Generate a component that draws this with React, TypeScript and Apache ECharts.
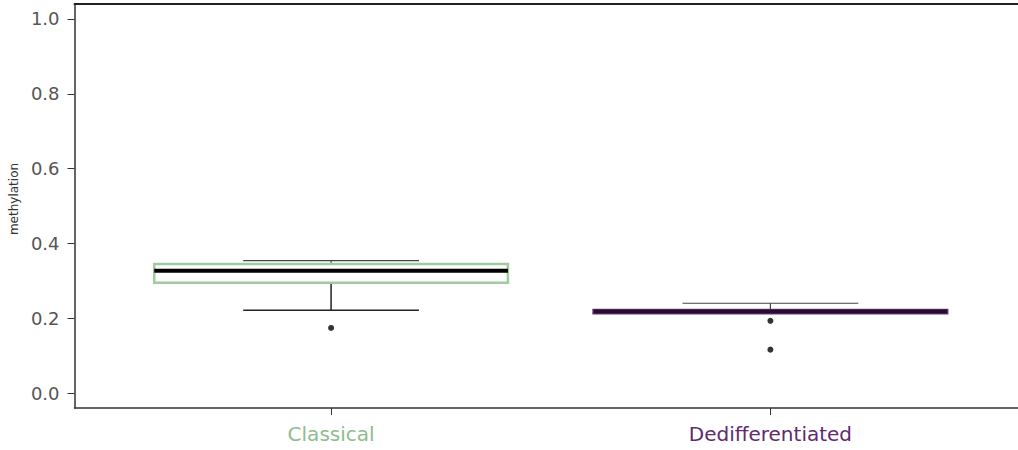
import React, { useEffect, useRef } from "react";
import * as echarts from "echarts";

const categories = ["Classical", "Dedifferentiated"];
const categoryColors = ["#8fbc8f", "#5e2b6e"];
const boxStrokeColors = ["#9fcb9f", "#6b3a7d"];
const medianColors = ["#000000", "#2a0a33"];
// [lowerWhisker, Q1, median, Q3, upperWhisker]
const boxStats = [
  [0.221, 0.295, 0.327, 0.345, 0.354],
  [0.213, 0.213, 0.218, 0.222, 0.240],
];
// [categoryIndex, value]
const outliers = [
  [0, 0.174],
  [1, 0.193],
  [1, 0.116],
];
const yTicks = [0, 0.2, 0.4, 0.6, 0.8, 1.0];

export default function App() {
  const ref = useRef<HTMLDivElement>(null);
  useEffect(() => {
    if (!ref.current) return;
    const chart = echarts.init(ref.current, undefined, { renderer: "svg" });
    const boxData = boxStats.map((s, i) => [i + 1, ...s, i]);
    const outlierData = outliers.map(([c, v]) => [c + 1, v]);
    chart.setOption({
      animation: false,
      backgroundColor: "#ffffff",
      grid: { left: 73, right: 0, top: 4, bottom: 42 },
      xAxis: [
        {
          type: "value",
          min: 0.416,
          max: 2.5636,
          position: "bottom",
          axisLine: { show: true, onZero: false, lineStyle: { color: "#333", width: 1.5 } },
          axisTick: { show: true, length: 7, customValues: [1, 2], lineStyle: { color: "#333", width: 1 } },
          axisLabel: {
            show: true,
            customValues: [1, 2],
            margin: 16,
            fontFamily: "DejaVu Sans",
            fontSize: 20,
            formatter: (v: number) => {
              const i = Math.round(v) - 1;
              return `{c${i}|${categories[i]}}`;
            },
            rich: {
              c0: { color: categoryColors[0], fontFamily: "DejaVu Sans", fontSize: 20 },
              c1: { color: categoryColors[1], fontFamily: "DejaVu Sans", fontSize: 20 },
            },
          },
          splitLine: { show: false },
        },
        {
          type: "value",
          min: 0.416,
          max: 2.5636,
          position: "top",
          axisLine: { show: true, onZero: false, lineStyle: { color: "#222", width: 2 } },
          axisTick: { show: false },
          axisLabel: { show: false },
          splitLine: { show: false },
        },
      ],
      yAxis: {
        type: "value",
        min: -0.04,
        max: 1.04,
        name: "methylation",
        nameLocation: "middle",
        nameGap: 53,
        nameTextStyle: { fontFamily: "DejaVu Sans", fontSize: 12, color: "#333", padding: [0, 0, 0, 14] },
        axisLine: { show: true, onZero: false, lineStyle: { color: "#333", width: 1.5 } },
        axisTick: { show: true, length: 7, customValues: yTicks, lineStyle: { color: "#333" } },
        axisLabel: {
          customValues: yTicks,
          margin: 15,
          fontFamily: "DejaVu Sans",
          fontSize: 18,
          color: "#555",
          formatter: (v: number) => v.toFixed(1),
        },
        splitLine: { show: false },
      },
      series: [
        {
          type: "custom",
          xAxisIndex: 0,
          data: boxData,
          renderItem: (params: any, api: any) => {
            const x = api.value(0);
            const lw = api.value(1);
            const q1 = api.value(2);
            const med = api.value(3);
            const q3 = api.value(4);
            const uw = api.value(5);
            const ci = api.value(6);
            const half = 0.4025;
            const cap = 0.2;
            const pL = api.coord([x - half, q3]);
            const pR = api.coord([x + half, q1]);
            const pC = api.coord([x, med]);
            const yUw = api.coord([x, uw])[1];
            const yLw = api.coord([x, lw])[1];
            const yQ3 = pL[1];
            const yQ1 = pR[1];
            const capL = api.coord([x - cap, 0])[0];
            const capR = api.coord([x + cap, 0])[0];
            const children: any[] = [
              { type: "line", shape: { x1: capL, y1: yUw, x2: capR, y2: yUw }, style: { stroke: "#444", lineWidth: 1.2 } },
              { type: "line", shape: { x1: pC[0], y1: yUw, x2: pC[0], y2: yQ3 }, style: { stroke: "#444", lineWidth: 1.2 } },
            ];
            if (lw < q1) {
              children.push(
                { type: "line", shape: { x1: capL, y1: yLw, x2: capR, y2: yLw }, style: { stroke: "#222", lineWidth: 1.5 } },
                { type: "line", shape: { x1: pC[0], y1: yLw, x2: pC[0], y2: yQ1 }, style: { stroke: "#222", lineWidth: 1.5 } }
              );
            }
            children.push(
              {
                type: "rect",
                shape: { x: pL[0], y: yQ3, width: pR[0] - pL[0], height: yQ1 - yQ3 },
                style: { fill: "none", stroke: boxStrokeColors[ci], lineWidth: 2.5 },
              },
              {
                type: "line",
                shape: { x1: pL[0], y1: pC[1], x2: pR[0], y2: pC[1] },
                style: { stroke: medianColors[ci], lineWidth: 4 },
              }
            );
            return { type: "group", children };
          },
        },
        {
          type: "scatter",
          xAxisIndex: 0,
          data: outlierData,
          symbol: "circle",
          symbolSize: 6,
          itemStyle: { color: "#000" },
        },
      ],
    });
    return () => chart.dispose();
  }, []);
  return (
    <div
      ref={ref}
      style={{ position: "fixed", left: 0, top: 0, width: 1018, height: 450 }}
    />
  );
}
